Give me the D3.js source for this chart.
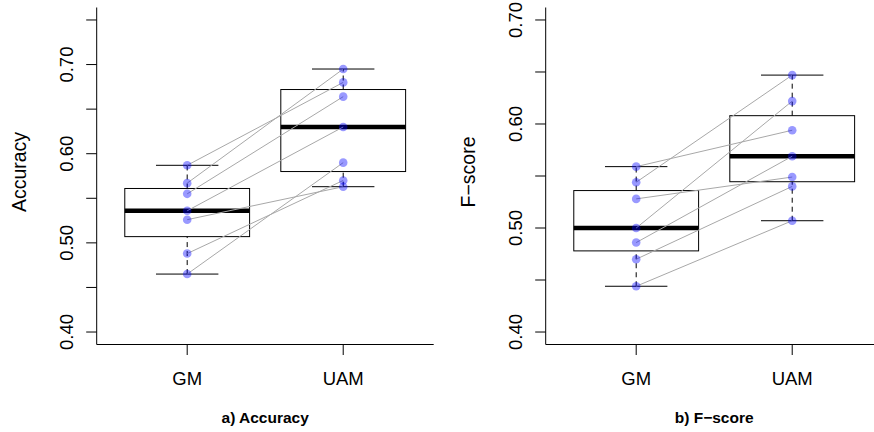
<!DOCTYPE html>
<html>
<head>
<meta charset="utf-8">
<script src="https://cdn.jsdelivr.net/npm/d3@7/dist/d3.min.js"></script>
<style>
  body { margin: 0; background: #fff; }
  text { font-family: "Liberation Sans", Arial, sans-serif; fill: #000; }
</style>
</head>
<body>
<svg id="chart" width="874" height="432"></svg>
<script>
// data (paired runs, GM vs UAM)
const groups = ['GM', 'UAM'];
const accuracyGM  = [0.587, 0.567, 0.555, 0.536, 0.526, 0.488, 0.465];
const accuracyUAM = [0.680, 0.695, 0.664, 0.630, 0.563, 0.570, 0.590];
const fscoreGM    = [0.559, 0.544, 0.528, 0.500, 0.486, 0.470, 0.444];
const fscoreUAM   = [0.594, 0.647, 0.549, 0.622, 0.569, 0.540, 0.507];
const accuracyTicks = [0.40, 0.45, 0.50, 0.55, 0.60, 0.65, 0.70, 0.75];
const fscoreTicks   = [0.40, 0.45, 0.50, 0.55, 0.60, 0.65, 0.70];
const labelledTicks = [0.40, 0.50, 0.60, 0.70];

const svg = d3.select('#chart');
const plotTop = 7.5, plotBottom = 344.5, plotWidth = 337;
const fontSize = 18.5;

// Tukey five-number summary, like R's boxplot
function fivenum(values) {
  const s = values.slice().sort(d3.ascending);
  const n = s.length;
  const n4 = Math.floor((n + 3) / 2) / 2;
  const idx = [1, n4, (n + 1) / 2, n + 1 - n4, n];
  return idx.map(i => 0.5 * (s[Math.floor(i) - 1] + s[Math.ceil(i) - 1]));
}

const panels = [
  { left: 96.7, ylim: [0.40, 0.75], ticks: accuracyTicks, ylab: 'Accuracy', title: 'a) Accuracy', gm: accuracyGM, uam: accuracyUAM },
  { left: 545.7, ylim: [0.40, 0.70], ticks: fscoreTicks, ylab: 'F\u2212score', title: 'b) F\u2212score', gm: fscoreGM, uam: fscoreUAM }
];

panels.forEach(p => {
  const pad = (p.ylim[1] - p.ylim[0]) * 0.04;
  const y = d3.scaleLinear().domain([p.ylim[0] - pad, p.ylim[1] + pad]).range([plotBottom, plotTop]);
  const x = d3.scaleLinear().domain([0.42, 2.58]).range([p.left, p.left + plotWidth]);
  const g = svg.append('g');

  // boxes
  [p.gm, p.uam].forEach((vals, i) => {
    const st = fivenum(vals);
    const cx = x(i + 1);
    const bw = x(1.4) - x(1);
    const cw = x(1.2) - x(1);
    // whiskers
    [[st[0], st[1]], [st[3], st[4]]].forEach(([a, b]) => {
      g.append('line').attr('x1', cx).attr('x2', cx).attr('y1', y(a)).attr('y2', y(b))
        .attr('stroke', '#000').attr('stroke-dasharray', '5,4');
    });
    [st[0], st[4]].forEach(v => {
      g.append('line').attr('x1', cx - cw).attr('x2', cx + cw).attr('y1', y(v)).attr('y2', y(v))
        .attr('stroke', '#000');
    });
    g.append('rect').attr('x', cx - bw).attr('width', 2 * bw)
      .attr('y', y(st[3])).attr('height', y(st[1]) - y(st[3]))
      .attr('fill', 'none').attr('stroke', '#000');
    g.append('line').attr('x1', cx - bw).attr('x2', cx + bw).attr('y1', y(st[2])).attr('y2', y(st[2]))
      .attr('stroke', '#000').attr('stroke-width', 4.5);
  });

  // paired lines
  p.gm.forEach((v, i) => {
    g.append('line').attr('x1', x(1)).attr('y1', y(v)).attr('x2', x(2)).attr('y2', y(p.uam[i]))
      .attr('stroke', '#a8a8a8').attr('stroke-width', 1);
  });

  // points
  [p.gm, p.uam].forEach((vals, i) => {
    g.selectAll(null).data(vals).enter().append('circle')
      .attr('cx', x(i + 1)).attr('cy', d => y(d)).attr('r', 4.3)
      .attr('fill', 'rgba(0,0,255,0.4)');
  });

  // frame (L shape)
  g.append('path')
    .attr('d', `M${p.left},${plotTop}V${plotBottom}H${p.left + plotWidth}`)
    .attr('fill', 'none').attr('stroke', '#000');

  // y axis
  const yAxis = g.append('g').attr('transform', `translate(${p.left},0)`);
  yAxis.selectAll('line.tick').data(p.ticks).enter().append('line')
    .attr('x1', -10.5).attr('x2', 0).attr('y1', d => y(d)).attr('y2', d => y(d))
    .attr('stroke', '#000');
  yAxis.selectAll('text').data(p.ticks.filter(t => labelledTicks.includes(t))).enter().append('text')
    .attr('transform', d => `translate(-24,${y(d)}) rotate(-90)`)
    .attr('text-anchor', 'middle')
    .style('font-size', fontSize + 'px')
    .text(d => d3.format('.2f')(d));

  // x axis
  groups.forEach((name, i) => {
    g.append('line').attr('x1', x(i + 1)).attr('x2', x(i + 1)).attr('y1', plotBottom).attr('y2', plotBottom + 10.5)
      .attr('stroke', '#000');
    g.append('text').attr('x', x(i + 1)).attr('y', 385).attr('text-anchor', 'middle')
      .style('font-size', fontSize + 'px').text(name);
  });

  // labels
  g.append('text')
    .attr('transform', `translate(${p.left - 71},${(plotTop + plotBottom) / 2 - 4}) rotate(-90)`)
    .attr('text-anchor', 'middle').style('font-size', '19.5px').text(p.ylab);
  g.append('text').attr('x', x(1.5)).attr('y', 423).attr('text-anchor', 'middle')
    .style('font-size', '15.5px').style('font-weight', 'bold').text(p.title);
});
</script>
</body>
</html>
